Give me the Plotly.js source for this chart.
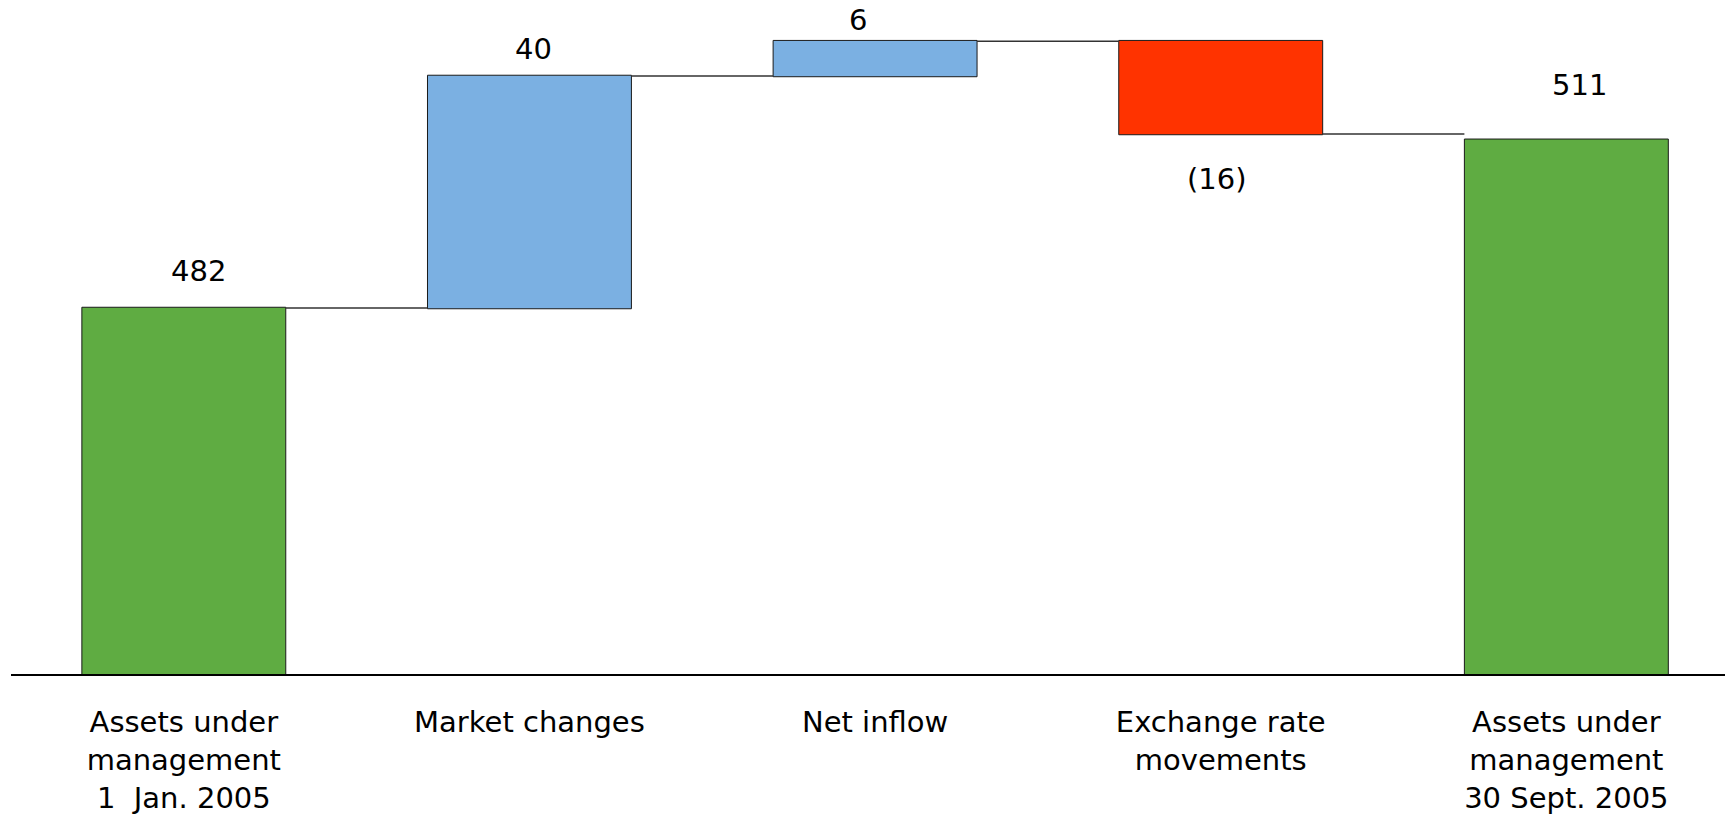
<!DOCTYPE html>
<html>
<head>
<meta charset="utf-8">
<script src="https://cdn.plot.ly/plotly-3.0.1.min.js"></script>
<style>
  html, body { margin: 0; padding: 0; background: #ffffff; }
  #chart { width: 1725px; height: 814px; }
</style>
</head>
<body>
<div id="chart"></div>
<script>
// ---- Data ----
const categories = [
  "Assets under<br>management<br>1  Jan. 2005",
  "Market changes",
  "Net inflow",
  "Exchange rate<br>movements",
  "Assets under<br>management<br>30 Sept. 2005"
];
const measures = ["absolute", "relative", "relative", "relative", "absolute"];
const values = [482, 40, 6, -16, 511];
const valueLabels = ["482", "40", "6", "(16)", "511"];

// ---- Styling (label nudges in pixels) ----
const labelDX = [15, 4, -17, -4, 13];
const labelDY = [37, 27, 21, -45, 55];

const FONT = "DejaVu Sans, Verdana, sans-serif";

const trace = {
  type: "waterfall",
  x: categories,
  y: values,
  measure: measures,
  textinfo: "none",
  hoverinfo: "skip",
  increasing: { marker: { color: "#7BB0E2", line: { color: "#1a1a1a", width: 1 } } },
  decreasing: { marker: { color: "#FF3300", line: { color: "#1a1a1a", width: 1 } } },
  totals: { marker: { color: "#5FAC42", line: { color: "#1a1a1a", width: 1 } } },
  connector: { mode: "between", line: { color: "#333333", width: 1.5 } }
};

// compute running end positions from data for label placement
const annotations = [];
let running = 0;
for (let i = 0; i < values.length; i++) {
  let end;
  if (measures[i] === "absolute") { end = values[i]; }
  else { end = running + values[i]; }
  running = end;
  annotations.push({
    x: categories[i],
    y: end,
    text: valueLabels[i],
    showarrow: false,
    xanchor: "center",
    yanchor: "middle",
    xshift: labelDX[i],
    yshift: labelDY[i],
    font: { family: FONT, size: 29, color: "#000000" }
  });
}

const layout = {
  width: 1725,
  height: 814,
  margin: { l: 11, r: 0, t: 0, b: 140 },
  paper_bgcolor: "#ffffff",
  plot_bgcolor: "#ffffff",
  showlegend: false,
  waterfallgap: 0.41,
  xaxis: {
    type: "category",
    range: [-0.5, 4.459],
    showgrid: false,
    zeroline: false,
    showline: true,
    linecolor: "#000000",
    linewidth: 1.5,
    ticks: "",
    tickfont: { family: FONT, size: 29, color: "#000000" },
    ticklabelstandoff: 22
  },
  yaxis: {
    range: [418.9, 535.1],
    showgrid: false,
    zeroline: false,
    showline: false,
    showticklabels: false,
    ticks: ""
  },
  annotations: annotations
};

Plotly.newPlot("chart", [trace], layout, { displayModeBar: false, staticPlot: true });
</script>
</body>
</html>
